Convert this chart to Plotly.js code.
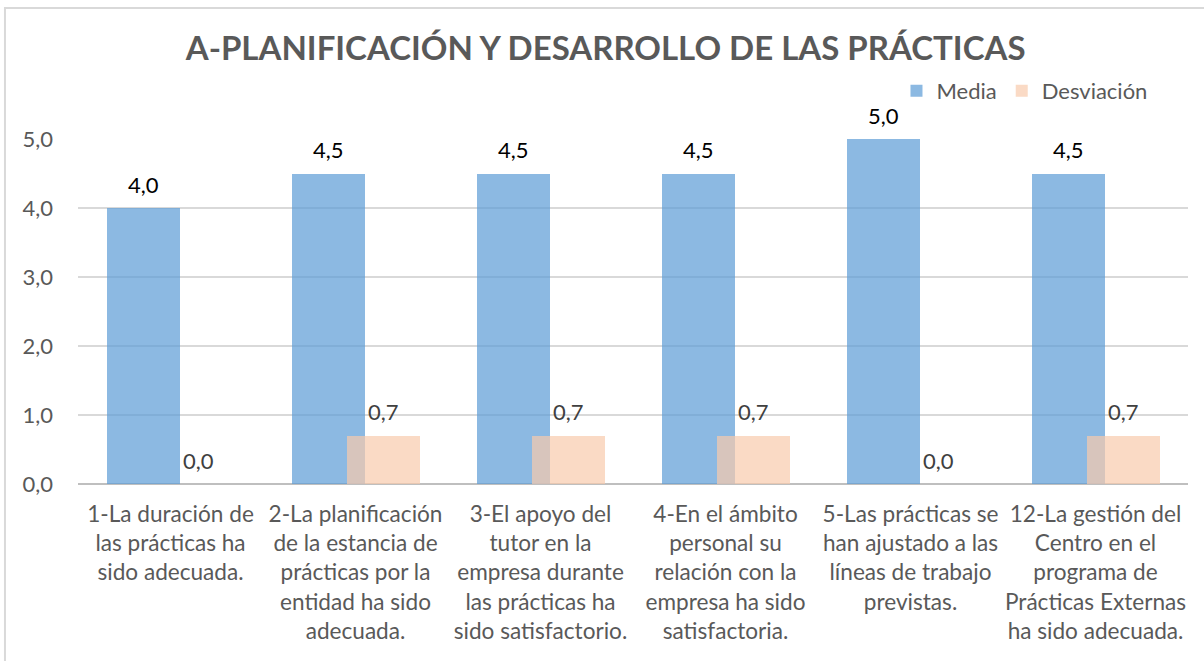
<!DOCTYPE html>
<html>
<head>
<meta charset="utf-8">
<script src="https://cdn.plot.ly/plotly-3.0.1.min.js"></script>
<style>
html,body{margin:0;padding:0;background:#fff;}
#chart{width:1204px;height:661px;}
</style>
</head>
<body>
<div id="chart"></div>
<script>
const chartTitle = "A-PLANIFICACIÓN Y DESARROLLO DE LAS PRÁCTICAS";
const categories = [
  "1-La duración de<br>las prácticas ha<br>sido adecuada.",
  "2-La planificación<br>de la estancia de<br>prácticas por la<br>entidad ha sido<br>adecuada.",
  "3-El apoyo del<br>tutor en la<br>empresa durante<br>las prácticas ha<br>sido satisfactorio.",
  "4-En el ámbito<br>personal su<br>relación con la<br>empresa ha sido<br>satisfactoria.",
  "5-Las prácticas se<br>han ajustado a las<br>líneas de trabajo<br>previstas.",
  "12-La gestión del<br>Centro en el<br>programa de<br>Prácticas Externas<br>ha sido adecuada."
];
const media = [4.0, 4.5, 4.5, 4.5, 5.0, 4.5];
const desviacion = [0.0, 0.7, 0.7, 0.7, 0.0, 0.7];
const yTicks = [0, 1, 2, 3, 4, 5];

const FONT = "Lato, 'Open Sans', sans-serif";
const xIdx = categories.map((c, i) => i);
const BAR_W = 0.395;
const OFF_MEDIA = -0.343;
const OFF_DESV = -0.046;

const traces = [
  {
    type: 'bar', name: 'Media', x: xIdx, y: media,
    width: BAR_W, offset: OFF_MEDIA,
    marker: {color: 'rgba(91,155,213,0.7)', line: {width: 0}},
    hoverinfo: 'y'
  },
  {
    type: 'bar', name: 'Desviación', x: xIdx, y: desviacion,
    width: BAR_W, offset: OFF_DESV,
    marker: {color: 'rgba(248,203,173,0.7)', line: {width: 0}},
    hoverinfo: 'y'
  }
];

const fmt = v => v.toFixed(1).replace('.', ',');
const annotations = [];
media.forEach((v, i) => annotations.push({
  x: i + OFF_MEDIA + BAR_W / 2, y: v, xref: 'x', yref: 'y',
  text: fmt(v), showarrow: false, yanchor: 'middle', yshift: 24,
  font: {family: FONT, size: 22, color: '#000000'}
}));
desviacion.forEach((v, i) => annotations.push({
  x: i + OFF_DESV + BAR_W / 2, y: v, xref: 'x', yref: 'y',
  text: fmt(v), showarrow: false, yanchor: 'middle', yshift: 24,
  font: {family: FONT, size: 22, color: '#404040'}
}));

const layout = {
  width: 1204, height: 661,
  margin: {l: 78, r: 16, t: 139, b: 177},
  paper_bgcolor: '#ffffff', plot_bgcolor: '#ffffff',
  separators: ',.',
  barmode: 'overlay',
  title: {
    text: chartTitle, x: 0.503, xanchor: 'center', y: 0.926, yanchor: 'middle',
    font: {family: FONT, size: 33, color: '#595959', weight: 'bold'}
  },
  showlegend: true,
  legend: {
    orientation: 'h', x: 0.968, xanchor: 'right', y: 1.139, yanchor: 'middle',
    font: {family: FONT, size: 22, color: '#595959'},
    bgcolor: 'rgba(0,0,0,0)', itemwidth: 30, traceorder: 'normal'
  },
  xaxis: {
    range: [-0.5, categories.length - 0.5],
    tickmode: 'array', tickvals: xIdx, ticktext: categories,
    tickfont: {family: FONT, size: 22.6, color: '#595959'},
    showgrid: false, zeroline: false, showline: false, ticks: '',
    ticklabelstandoff: 14, fixedrange: true
  },
  yaxis: {
    range: [0, 5], tickmode: 'array', tickvals: yTicks,
    tickformat: '.1f',
    tickfont: {family: FONT, size: 22, color: '#595959'},
    showgrid: true, gridcolor: '#d9d9d9', gridwidth: 1.5,
    zeroline: true, zerolinecolor: '#bfbfbf', zerolinewidth: 2.5,
    showline: false, ticks: '', ticklabelstandoff: 24, fixedrange: true
  },
  annotations: annotations,
  shapes: [{
    type: 'rect', xref: 'paper', yref: 'paper',
    x0: -0.0658, x1: 1.05, y0: -0.6, y1: 1.3797,
    line: {color: '#d9d9d9', width: 2}, fillcolor: 'rgba(0,0,0,0)', layer: 'below'
  }],
  bargap: 0
};

Plotly.newPlot('chart', traces, layout, {displayModeBar: false, staticPlot: true});
</script>
</body>
</html>
